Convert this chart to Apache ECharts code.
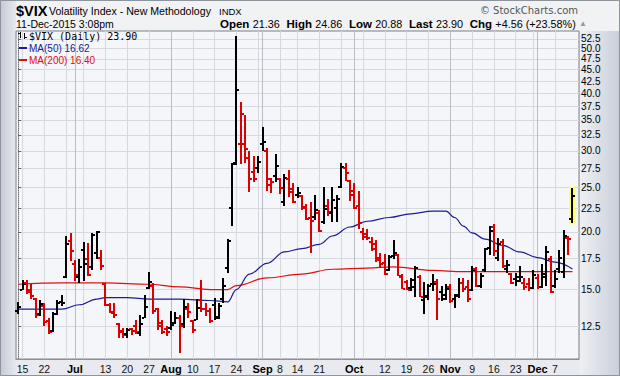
<!DOCTYPE html>
<html>
<head>
<meta charset="utf-8">
<script src="https://cdn.jsdelivr.net/npm/echarts@6/dist/echarts.min.js"></script>
<style>
  html, body { margin: 0; padding: 0; background: #e8eaef; }
  #chart { width: 620px; height: 376px; }
</style>
</head>
<body>
<div id="chart"></div>
<script>
// trading days, Jun 12 - Dec 11 2015
var dates = [
  '6/12','6/15','6/16','6/17','6/18','6/19','6/22','6/23','6/24','6/25','6/26','6/29','6/30',
  '7/1','7/2','7/6','7/7','7/8','7/9','7/10','7/13','7/14','7/15','7/16','7/17','7/20','7/21','7/22','7/23','7/24','7/27','7/28','7/29','7/30','7/31',
  '8/3','8/4','8/5','8/6','8/7','8/10','8/11','8/12','8/13','8/14','8/17','8/18','8/19','8/20','8/21','8/24','8/25','8/26','8/27','8/28','8/31',
  '9/1','9/2','9/3','9/4','9/8','9/9','9/10','9/11','9/14','9/15','9/16','9/17','9/18','9/21','9/22','9/23','9/24','9/25','9/28','9/29','9/30',
  '10/1','10/2','10/5','10/6','10/7','10/8','10/9','10/12','10/13','10/14','10/15','10/16','10/19','10/20','10/21','10/22','10/23','10/26','10/27','10/28','10/29','10/30',
  '11/2','11/3','11/4','11/5','11/6','11/9','11/10','11/11','11/12','11/13','11/16','11/17','11/18','11/19','11/20','11/23','11/24','11/25','11/27','11/30',
  '12/1','12/2','12/3','12/4','12/7','12/8','12/9','12/10','12/11'
];

var opens = [
  13.5, 15.0, 15.5, 15.0, 14.3, 13.3, 13.8, 12.8, 12.2, 13.3, 14.1, 16.0, 19.1,
  17.0, 16.0, 18.3, 17.5, 16.8, 18.0, 17.6, 15.4, 13.9, 13.4, 12.6, 12.2, 12.0, 12.3, 12.5, 12.1, 13.0, 15.1, 15.3, 13.6, 12.7, 12.3,
  12.4, 12.7, 13.0, 12.6, 13.6, 12.8, 12.9, 14.2, 13.6, 13.5, 13.9, 13.1, 14.3, 16.7, 22.6, 28.3, 31.0, 31.0, 29.0, 27.0, 27.5,
  31.0, 30.0, 25.3, 26.5, 26.0, 23.2, 26.0, 24.8, 24.0, 23.9, 22.7, 21.4, 21.6, 22.0, 21.0, 22.8, 22.0, 22.5, 25.0, 27.5, 25.8,
  24.0, 22.8, 20.0, 19.8, 19.0, 18.8, 17.6, 17.1, 16.5, 17.7, 17.8, 16.0, 15.6, 15.1, 15.2, 16.0, 14.2, 14.5, 15.4, 15.6, 14.8, 14.3,
  15.2, 14.3, 14.6, 15.5, 15.2, 15.0, 16.6, 15.3, 16.5, 18.5, 20.5, 17.6, 19.0, 16.6, 16.2, 15.8, 16.0, 15.5, 15.4, 15.1,
  15.9, 15.2, 16.0, 17.5, 15.3, 16.6, 16.4, 19.4, 21.36
];
var highs = [
  14.1, 15.7, 15.75, 15.4, 14.4, 14.2, 14.0, 13.0, 13.4, 14.2, 14.6, 19.6, 19.9,
  17.4, 17.5, 19.0, 18.9, 19.9, 20.05, 18.3, 15.5, 14.0, 14.0, 12.7, 12.4, 12.4, 12.4, 12.9, 13.2, 14.6, 16.4, 15.5, 13.7, 12.9, 12.5,
  13.5, 13.4, 13.2, 14.3, 14.0, 12.9, 14.3, 15.7, 14.0, 13.7, 14.4, 14.0, 15.9, 19.3, 28.3, 53.29, 38.2, 35.8, 30.0, 29.2, 29.2,
  33.8, 30.4, 26.2, 29.5, 26.2, 26.7, 27.3, 25.6, 25.1, 24.0, 23.0, 23.2, 24.0, 22.3, 25.0, 23.6, 25.0, 24.0, 28.3, 28.3, 25.9,
  25.6, 24.5, 20.4, 20.3, 19.5, 19.2, 18.0, 17.9, 17.8, 19.2, 17.9, 16.2, 15.7, 15.9, 16.9, 16.1, 15.6, 15.4, 16.2, 15.8, 15.3, 15.4,
  15.4, 14.7, 15.9, 15.9, 15.7, 16.9, 16.8, 16.3, 18.5, 20.6, 20.8, 19.4, 19.3, 17.4, 16.3, 16.3, 16.9, 15.9, 15.9, 16.5,
  16.2, 17.0, 18.6, 17.7, 16.5, 18.3, 20.2, 19.6, 24.86
];
var lows = [
  13.3, 14.9, 14.7, 14.3, 13.0, 13.1, 12.5, 12.0, 12.1, 13.2, 13.8, 15.9, 17.3,
  15.7, 15.5, 15.6, 16.0, 16.5, 17.4, 16.6, 13.8, 13.3, 13.0, 11.8, 11.8, 11.8, 12.0, 12.0, 11.9, 13.0, 15.1, 13.3, 12.3, 12.0, 11.9,
  12.3, 12.6, 10.9, 12.4, 13.0, 12.1, 12.9, 13.4, 13.1, 12.7, 12.9, 12.9, 14.0, 16.3, 20.7, 28.0, 28.0, 28.1, 24.5, 25.6, 26.8,
  30.0, 24.5, 24.3, 25.6, 24.2, 22.7, 23.8, 23.2, 23.8, 22.3, 21.2, 18.0, 21.2, 20.0, 20.8, 21.7, 21.0, 21.0, 25.0, 25.9, 23.3,
  22.5, 20.3, 19.2, 19.2, 18.2, 17.2, 16.8, 16.1, 16.4, 17.5, 16.0, 15.0, 14.9, 14.9, 14.5, 14.4, 13.3, 14.2, 14.9, 12.9, 14.2, 14.2,
  14.0, 13.7, 14.4, 14.8, 14.1, 14.9, 15.2, 15.1, 16.4, 17.8, 17.7, 17.3, 16.7, 16.3, 15.4, 15.3, 15.6, 15.0, 14.9, 15.0,
  15.0, 15.1, 15.2, 14.7, 15.1, 16.3, 15.9, 17.8, 20.88
];
var closes = [
  13.78, 15.39, 14.81, 14.50, 13.19, 13.96, 12.74, 12.11, 13.26, 14.01, 14.02, 18.85, 18.23,
  16.09, 16.79, 17.01, 16.09, 19.66, 19.97, 16.83, 13.90, 13.37, 13.23, 12.11, 11.95, 12.25, 12.22, 12.12, 12.64, 13.74, 15.60, 13.44, 12.50, 12.13, 12.12,
  12.56, 13.00, 12.51, 13.77, 13.39, 12.23, 13.71, 13.61, 13.49, 12.83, 13.02, 13.79, 15.25, 19.14, 28.03, 40.74, 36.02, 30.32, 26.10, 26.05, 28.43,
  31.40, 26.09, 25.61, 27.80, 24.90, 26.23, 24.37, 23.20, 24.25, 22.54, 21.35, 21.14, 22.28, 20.14, 22.44, 22.13, 23.47, 23.62, 27.63, 26.83, 24.50,
  22.55, 20.94, 19.54, 19.40, 18.40, 17.42, 17.08, 16.17, 17.67, 18.03, 16.05, 15.05, 14.98, 15.75, 16.70, 14.45, 14.46, 15.29, 15.43, 14.33, 14.61, 15.07,
  14.15, 14.54, 15.51, 15.05, 14.33, 16.52, 15.29, 16.06, 18.37, 20.08, 18.16, 18.84, 16.85, 16.99, 15.47, 15.62, 15.93, 15.19, 15.12, 16.13,
  15.19, 16.25, 18.11, 14.81, 15.84, 17.60, 19.61, 19.34, 23.90
];
var prevClose = 12.85;   // close before the first bar (colour of bar 0)

// moving averages at sample days (index into dates)
var ma50Idx = [0, 6, 10, 14, 18, 20, 25, 30, 37, 44, 48, 50, 53, 57, 61, 65, 69, 72, 76, 80, 85, 90, 95, 98, 100, 102, 104, 107, 111, 115, 119, 123, 127];
var ma50Val = [13.6, 13.6, 13.6, 13.9, 14.3, 14.4, 14.4, 14.3, 14.3, 14.2, 14.1, 15.0, 16.2, 17.1, 18.1, 18.4, 18.8, 19.6, 20.5, 21.1, 21.5, 21.9, 22.2, 22.2, 21.5, 20.6, 19.9, 19.3, 18.7, 18.1, 17.6, 17.2, 16.62];
var ma200Idx = [0, 10, 20, 30, 37, 44, 48, 50, 57, 65, 72, 80, 86, 95, 102, 110, 120, 127];
var ma200Val = [15.4, 15.5, 15.5, 15.4, 15.2, 15.0, 15.0, 15.3, 15.9, 16.2, 16.6, 16.7, 16.8, 16.5, 16.4, 16.4, 16.4, 16.40];

var yTicks = [12.5, 15, 17.5, 20, 22.5, 25, 27.5, 30, 32.5, 35, 37.5, 40, 42.5, 45, 47.5, 50, 52.5];
var monthNames = ['Jan', 'Feb', 'Mar', 'Apr', 'May', 'Jun', 'Jul', 'Aug', 'Sep', 'Oct', 'Nov', 'Dec'];
var stampText = '11-Dec-2015 3:08pm';

var FONT = '"Liberation Sans", Arial, sans-serif';

// echarts drops an end label that crowds its neighbour; list the labels so the
// first two and last two are far apart (order does not change where they sit)
var nY = yTicks.length;
var yLabelOrder = [yTicks[0], yTicks[nY - 1]].concat(yTicks.slice(2, nY - 2), [yTicks[nY - 2], yTicks[1]]);

// month / week starts
var parts = dates.map(function (d) { return d.split('/').map(Number); });
var dows = parts.map(function (p) { return new Date(2015, p[0] - 1, p[1]).getDay(); });
var monthIdx = [], weekIdx = [], labelIdx = [];
parts.forEach(function (p, i) {
  if (i === 0) return;
  if (p[0] !== parts[i - 1][0]) monthIdx.push(i);
  if (dows[i] <= dows[i - 1]) weekIdx.push(i);
});
var gridIdx = weekIdx.concat(monthIdx).sort(function (a, b) { return a - b; });
gridIdx.forEach(function (i) {
  var isMonth = monthIdx.indexOf(i) >= 0;
  var near = monthIdx.some(function (m) { return m !== i && Math.abs(m - i) <= 3; });
  if ((isMonth || !near) && labelIdx.indexOf(i) < 0) labelIdx.push(i);
});

var last = closes.length - 1;
var chg = closes[last] - closes[last - 1];
var pct = chg / closes[last - 1] * 100;

var ohlc = dates.map(function (d, i) {
  return [i, opens[i], highs[i], lows[i], closes[i]];
});

function renderBar(params, api) {
  var i = api.value(0);
  var pH = api.coord([i, api.value(2)]);
  var pL = api.coord([i, api.value(3)]);
  var pO = api.coord([i, api.value(1)]);
  var pC = api.coord([i, api.value(4)]);
  var x = Math.round(pH[0]);
  var prev = i === 0 ? prevClose : closes[i - 1];
  var color = api.value(4) >= prev ? '#000000' : '#dd0000';
  var kids = [];
  if (i === last) {
    kids.push({ type: 'rect', shape: { x: x - 3, y: pH[1] - 2, width: 6, height: pL[1] - pH[1] + 3 }, style: { fill: '#ffff66' } });
  }
  kids.push({ type: 'rect', shape: { x: x - 1, y: Math.round(pH[1]), width: 2, height: Math.max(1, Math.round(pL[1] - pH[1])) }, style: { fill: color } });
  kids.push({ type: 'rect', shape: { x: x - 3, y: Math.round(pO[1]) - 1, width: 2, height: 2 }, style: { fill: color } });
  kids.push({ type: 'rect', shape: { x: x + 1, y: Math.round(pC[1]) - 1, width: 2, height: 2 }, style: { fill: color } });
  return { type: 'group', children: kids };
}

function pairs(idx, vals) {
  return idx.map(function (i, k) { return [i, vals[k]]; });
}

var chart = echarts.init(document.getElementById('chart'), null, { renderer: 'svg' });

var option = {
  animation: false,
  backgroundColor: '#e8eaef',
  grid: {
    left: 16, right: 41, top: 31, bottom: 17,
    show: true, backgroundColor: '#f5f6fa', borderColor: '#7a7e87', borderWidth: 1
  },
  xAxis: [{
    type: 'value',
    min: -0.5,
    max: dates.length + 0.5,
    axisLine: { show: true, lineStyle: { color: '#888', type: 'dotted' } },
    axisTick: { show: false, customValues: gridIdx },
    splitLine: { show: true, lineStyle: { color: '#d7d9e0', width: 1 } },
    axisLabel: {
      customValues: labelIdx,
      showMinLabel: true,
      showMaxLabel: true,
      margin: 4,
      fontFamily: FONT,
      fontSize: 10.5,
      color: '#000',
      formatter: function (v) {
        var i = Math.round(v);
        if (monthIdx.indexOf(i) >= 0) return '{m|' + monthNames[parts[i][0] - 1] + '}';
        return '{d|' + parts[i][1] + '}';
      },
      rich: {
        m: { fontFamily: FONT, fontSize: 11, fontWeight: 'bold', color: '#000' },
        d: { fontFamily: FONT, fontSize: 10.5, color: '#111' }
      }
    }
  }, {
    type: 'value',
    position: 'top',
    min: -0.5,
    max: dates.length + 0.5,
    axisLine: { show: false },
    axisLabel: { show: false },
    axisTick: { show: false, customValues: monthIdx },
    splitLine: { show: true, lineStyle: { color: '#b9bcc5', width: 1 } }
  }],
  yAxis: {
    type: 'log',
    logBase: 10,
    position: 'right',
    min: 10.6,
    max: 54.6,
    axisLine: { show: true, lineStyle: { color: '#777', type: 'dotted' } },
    axisTick: { show: true, length: 3, customValues: yTicks, lineStyle: { color: '#666' } },
    splitLine: { show: true, lineStyle: { color: '#d7d9e0' } },
    axisLabel: {
      customValues: yLabelOrder,
      showMinLabel: true,
      showMaxLabel: true,
      margin: 2,
      fontFamily: FONT,
      fontSize: 10,
      color: '#000',
      hideOverlap: false,
      formatter: function (v) { return Number(v).toFixed(1); }
    }
  },
  series: [{
    name: 'MA(200)',
    type: 'line',
    data: pairs(ma200Idx, ma200Val),
    smooth: 0.4,
    smoothMonotone: 'x',
    showSymbol: false,
    lineStyle: { color: '#e01010', width: 1.2 },
    z: 2
  }, {
    name: 'MA(50)',
    type: 'line',
    data: pairs(ma50Idx, ma50Val),
    smooth: 0.4,
    smoothMonotone: 'x',
    showSymbol: false,
    lineStyle: { color: '#1c1c94', width: 1.2 },
    z: 3
  }, {
    name: '$VIX',
    type: 'custom',
    renderItem: renderBar,
    encode: { x: 0, y: [1, 2, 3, 4] },
    data: ohlc,
    z: 5
  }],
  graphic: [
    // frame pieces
    { type: 'rect', z: -100, shape: { x: 0, y: 0, width: 620, height: 31 }, style: { fill: '#f1f2f4' } },
    { type: 'rect', z: -99, shape: { x: 0, y: 0, width: 16, height: 376 },
      style: { fill: new echarts.graphic.LinearGradient(0, 0, 1, 0, [{ offset: 0, color: '#c4c9d3' }, { offset: 1, color: '#e6e9ee' }]) } },
    { type: 'rect', z: -99, shape: { x: 580, y: 31, width: 40, height: 345 },
      style: { fill: new echarts.graphic.LinearGradient(0, 0, 1, 0, [{ offset: 0, color: '#eef0f3' }, { offset: 1, color: '#c9ced8' }]) } },
    { type: 'rect', z: 200, shape: { x: 0.5, y: 0.5, width: 619, height: 375 }, style: { fill: null, stroke: '#8e939c', lineWidth: 1 } },

    // header
    { type: 'text', z: 100, x: 16, y: 10.5, style: { text: '$VIX', font: 'bold 14.5px ' + FONT, fill: '#000', verticalAlign: 'middle' } },
    { type: 'text', z: 100, x: 49, y: 11, style: { text: 'Volatility Index - New Methodology', font: '10.6px ' + FONT, fill: '#000', verticalAlign: 'middle' } },
    { type: 'text', z: 100, x: 219, y: 11.5, style: { text: 'INDX', font: '9.5px ' + FONT, fill: '#000', verticalAlign: 'middle' } },
    { type: 'text', z: 100, x: 16, y: 24, style: { text: stampText, font: '10.5px ' + FONT, fill: '#000', verticalAlign: 'middle' } },
    { type: 'text', z: 100, x: 578, y: 10.5, style: { text: '\u00a9 StockCharts.com', font: '10px "DejaVu Sans", sans-serif', fill: '#555', align: 'right', verticalAlign: 'middle' } },
    { type: 'text', z: 100, x: 220, y: 23.5, style: {
      text: '{b|Open} {n|' + opens[last].toFixed(2) + '}  {b|High} {n|' + highs[last].toFixed(2) +
        '}  {b|Low} {n|' + lows[last].toFixed(2) + '}  {b|Last} {n|' + closes[last].toFixed(2) +
        '}  {b|Chg} {n|' + (chg >= 0 ? '+' : '') + chg.toFixed(2) + ' (' + (pct >= 0 ? '+' : '') + pct.toFixed(2) + '%)} {t|\u25b2}',
      verticalAlign: 'middle',
      rich: {
        b: { font: 'bold 11.5px ' + FONT, fill: '#000' },
        n: { font: '10.8px ' + FONT, fill: '#000' },
        t: { font: '8px ' + FONT, fill: '#999' }
      }
    } },

    // legend
    { type: 'rect', z: 100, shape: { x: 20, y: 32, width: 1, height: 6 }, style: { fill: '#000' } },
    { type: 'rect', z: 100, shape: { x: 18, y: 33, width: 2, height: 1 }, style: { fill: '#000' } },
    { type: 'rect', z: 100, shape: { x: 24, y: 33, width: 1, height: 6 }, style: { fill: '#000' } },
    { type: 'rect', z: 100, shape: { x: 25, y: 37, width: 2, height: 1 }, style: { fill: '#000' } },
    { type: 'text', z: 100, x: 29, y: 36, style: { text: '$VIX (Daily) ' + closes[last].toFixed(2), font: '10px "DejaVu Sans Mono", monospace', fill: '#000', verticalAlign: 'middle' } },
    { type: 'rect', z: 100, shape: { x: 19, y: 47, width: 8, height: 2 }, style: { fill: '#1c1c94' } },
    { type: 'text', z: 100, x: 29, y: 48, style: { text: 'MA(50) ' + ma50Val[ma50Val.length - 1].toFixed(2), font: '10px ' + FONT, fill: '#1c1c94', verticalAlign: 'middle' } },
    { type: 'rect', z: 100, shape: { x: 19, y: 59, width: 8, height: 2 }, style: { fill: '#e01010' } },
    { type: 'text', z: 100, x: 29, y: 60, style: { text: 'MA(200) ' + ma200Val[ma200Val.length - 1].toFixed(2), font: '10px ' + FONT, fill: '#e01010', verticalAlign: 'middle' } }
  ]
};

chart.setOption(option);
</script>
</body>
</html>
